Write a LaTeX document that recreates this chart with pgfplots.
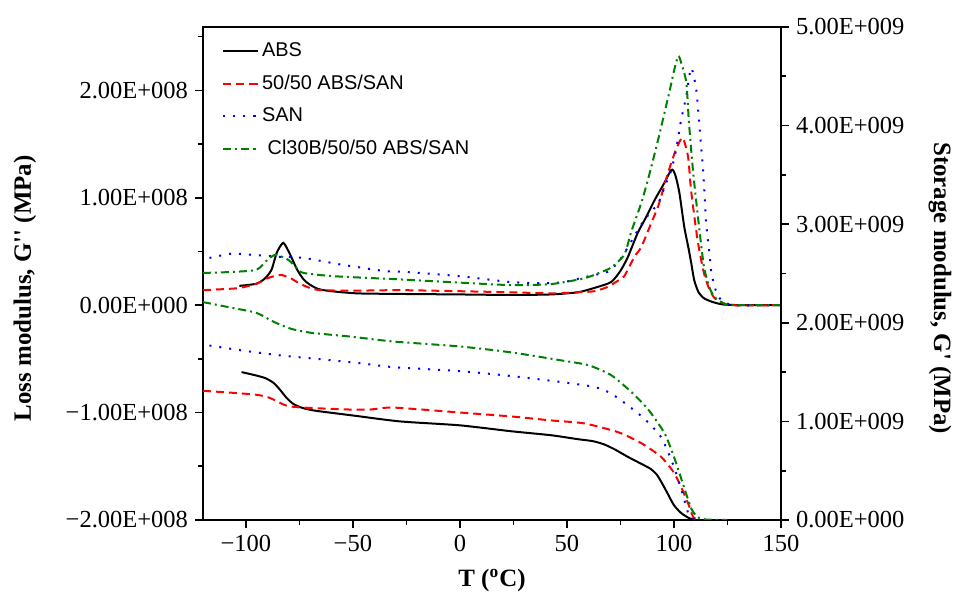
\documentclass[border=0pt]{standalone}
\usepackage{fontspec}
\setmainfont{Liberation Serif}
\newfontfamily\arial{Liberation Sans}
\usepackage{pgfplots}
\pgfplotsset{compat=1.18}

% loss modulus G'' in units of 1e8
\pgfplotstableread{
T G
-103 0.18
-95 0.20
-91 0.25
-88 0.33
-85.5 0.49
-82.5 0.58
-79.5 0.48
-76 0.33
-73 0.24
-70 0.19
-66 0.15
-60 0.13
-48 0.11
-30 0.105
0 0.10
24 0.095
42.5 0.10
55 0.12
62.7 0.16
70.6 0.215
75 0.32
78.5 0.45
83 0.67
87 0.82
91 0.98
95 1.12
98.8 1.26
100.5 1.22
102.5 1.05
104.8 0.73
106.6 0.55
108 0.40
109.5 0.23
111.5 0.12
114 0.065
118 0.03
123.6 0.005
135 0
150 0
}\lossABS
\pgfplotstableread{
T G
-120 0.14
-110 0.15
-103 0.16
-95 0.20
-90 0.25
-85 0.28
-83 0.28
-79 0.25
-74.7 0.20
-70 0.16
-65 0.14
-50 0.135
-28 0.14
0 0.13
24 0.12
42.5 0.11
55 0.12
62.7 0.13
69 0.17
74 0.23
76.8 0.27
81.5 0.45
84.7 0.54
89.5 0.77
92.6 0.92
96 1.15
98.8 1.33
101 1.45
104 1.56
106.6 1.38
108 1.07
111 0.61
114 0.30
116.5 0.15
119 0.065
123 0.02
127 0
150 0
}\lossMix
\pgfplotstableread{
T G
-117 0.44
-106.6 0.48
-98 0.47
-84 0.45
-73 0.44
-56 0.38
-36 0.32
-26 0.31
0 0.27
24 0.215
42 0.205
50 0.22
58 0.26
65 0.29
69 0.31
74 0.40
78.5 0.54
82 0.66
86 0.79
92.6 0.95
96 1.12
98.8 1.26
101 1.45
103.4 1.73
105.8 1.95
108 2.21
110.4 2.01
112 1.64
113.7 1.23
115 0.77
116.5 0.50
117.5 0.30
119.5 0.14
122 0.05
128 0
150 0
}\lossSAN
\pgfplotstableread{
T G
-120 0.30
-106 0.31
-95 0.33
-90 0.42
-86 0.47
-80 0.42
-76 0.34
-73 0.30
-59 0.27
-28 0.24
0 0.21
24 0.187
42.5 0.196
58 0.25
65 0.30
70.6 0.35
76.8 0.47
80 0.68
84.7 0.95
88 1.18
92.6 1.54
97.8 1.98
100 2.18
102 2.32
103.5 2.25
105.8 2.07
107 1.70
109 1.23
111.5 0.77
114 0.36
116.5 0.17
119 0.075
124 0.01
130 0
150 0
}\lossClay

% storage modulus G' in units of 1e9
\pgfplotstableread{
T G
-102 1.50
-96 1.47
-91 1.44
-87 1.39
-84 1.32
-81 1.24
-78 1.18
-74 1.14
-68 1.11
-50 1.06
-28 1.00
0 0.96
24 0.90
42.5 0.86
55 0.82
62 0.80
67 0.77
72 0.72
78.5 0.64
84.7 0.57
89 0.52
92 0.46
94.5 0.37
97 0.27
100 0.15
103.4 0.07
107 0.02
110 0
}\storABS
\pgfplotstableread{
T G
-120 1.31
-106 1.29
-95 1.27
-89 1.24
-81 1.16
-73 1.14
-51 1.12
-42 1.12
-31 1.14
0 1.09
24 1.05
42.5 1.01
58 0.98
74 0.89
84.7 0.78
94 0.64
100 0.48
103.4 0.33
106.6 0.17
109 0.03
112 0
}\storMix
\pgfplotstableread{
T G
-117 1.77
-102 1.72
-84 1.67
-65 1.63
-46.5 1.59
-31 1.55
0 1.51
24 1.46
47 1.40
62.7 1.35
70 1.29
76.8 1.19
86 1.03
94 0.84
100 0.54
104 0.27
107 0.05
110 0
}\storSAN
\pgfplotstableread{
T G
-120 2.21
-106 2.15
-95 2.10
-87 2.01
-79 1.94
-70 1.90
-51 1.86
-31 1.81
0 1.76
24 1.70
47 1.62
60 1.57
70.6 1.47
80 1.30
88 1.12
95.6 0.88
100 0.64
104 0.38
108 0.12
111 0.03
115 0.005
125 0
}\storClay

\pgfplotsset{
  base/.style={
    scale only axis, width=289bp, height=246.5bp,
    xmin=-120, xmax=150,
    axis line style={line width=1bp},
    tick style={line width=0.8bp, black},
    tick align=outside,
    major tick length=4bp, minor tick length=2.5bp,
    tick label style={font=\fontsize{12.3}{14}\selectfont},
  },
  absline/.style={black, line width=1bp},
  mixline/.style={red, line width=1bp, dash pattern=on 4bp off 2.5bp},
  sanline/.style={blue, line width=1bp, dash pattern=on 1bp off 4bp},
  clayline/.style={green!50!black, line width=1bp, dash pattern=on 4bp off 2bp on 1bp off 2bp},
}

\begin{document}
\begin{tikzpicture}
\begin{axis}[
    base,
    ymin=-2, ymax=2.59,
    xtick pos=left, ytick pos=left,
    xtick={-100,-50,0,50,100,150},
    xticklabels={−100,−50,0,50,100,150},
    minor xtick={-75,-25,25,75,125},
    ytick={-2,-1,0,1,2},
    yticklabels={−2.00E+008,−1.00E+008,0.00E+000,1.00E+008,2.00E+008},
    minor ytick={-1.5,-0.5,0.5,1.5,2.5},
    xlabel={\bfseries T (\textsuperscript{o}C)},
    ylabel={\bfseries Loss modulus, G\textquotesingle\textquotesingle{} (MPa)},
    every axis x label/.style={at={(axis description cs:0.5,-0.122)}, anchor=center, font=\fontsize{12.5}{14}\selectfont},
    every axis y label/.style={at={(axis description cs:-0.308,0.47)}, anchor=center, rotate=90, font=\fontsize{12.5}{14}\selectfont},
    legend style={draw=none, fill=none, at={(axis description cs:0.022,0.985)}, anchor=north west,
      font=\arial\fontsize{10}{12}\selectfont, row sep=3.7bp},
    legend cell align=left,
]
\addplot[absline, smooth, tension=0.4] table[x=T, y=G] {\lossABS};
\addlegendentry{ABS}
\addplot[mixline, smooth, tension=0.4] table[x=T, y=G] {\lossMix};
\addlegendentry{50/50 ABS/SAN}
\addplot[sanline, smooth, tension=0.4] table[x=T, y=G] {\lossSAN};
\addlegendentry{SAN}
\addplot[clayline, smooth, tension=0.4] table[x=T, y=G] {\lossClay};
\addlegendentry{\ Cl30B/50/50 ABS/SAN}
\coordinate (sw) at (rel axis cs:0,0);
\coordinate (ne) at (rel axis cs:1,1);
\end{axis}
\begin{axis}[
    base,
    ymin=0, ymax=5,
    axis x line=none,
    axis y line*=right,
    ytick={0,1,2,3,4,5},
    yticklabels={0.00E+000,1.00E+009,2.00E+009,3.00E+009,4.00E+009,5.00E+009},
    minor ytick={0.5,1.5,2.5,3.5,4.5},
    ylabel={\bfseries Storage modulus, G\textquotesingle{} (MPa)},
    every axis y label/.style={at={(axis description cs:1.275,0.47)}, anchor=center, rotate=-90, font=\fontsize{12.5}{14}\selectfont},
]
\addplot[absline, smooth, tension=0.4] table[x=T, y=G] {\storABS};
\addplot[mixline, smooth, tension=0.4] table[x=T, y=G] {\storMix};
\addplot[sanline, smooth, tension=0.4] table[x=T, y=G] {\storSAN};
\addplot[clayline, smooth, tension=0.4] table[x=T, y=G] {\storClay};
\end{axis}
\pgfresetboundingbox
\path[use as bounding box] ([shift={(-101.5bp,-43bp)}]sw) rectangle ([shift={(88bp,13.5bp)}]ne);
\end{tikzpicture}
\end{document}
